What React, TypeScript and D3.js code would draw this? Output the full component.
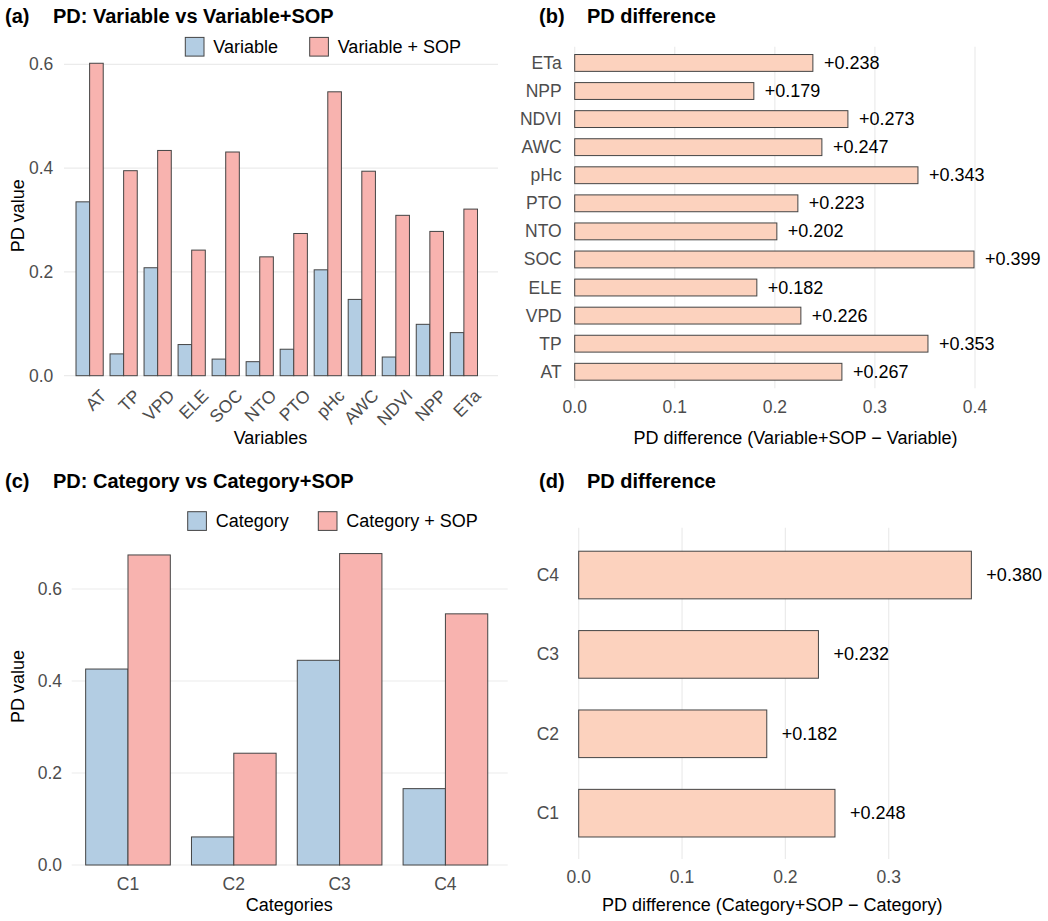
import React from 'react';
import * as d3 from 'd3';

// variable-level PD values
const variables = ['AT', 'TP', 'VPD', 'ELE', 'SOC', 'NTO', 'PTO', 'pHc', 'AWC', 'NDVI', 'NPP', 'ETa'];
const varPD = [0.335, 0.042, 0.208, 0.060, 0.032, 0.027, 0.051, 0.204, 0.147, 0.036, 0.099, 0.083];
const varSopPD = [0.602, 0.395, 0.434, 0.242, 0.431, 0.229, 0.274, 0.547, 0.394, 0.309, 0.278, 0.321];
const varDiff = [0.267, 0.353, 0.226, 0.182, 0.399, 0.202, 0.223, 0.343, 0.247, 0.273, 0.179, 0.238];

// category-level PD values
const categories = ['C1', 'C2', 'C3', 'C4'];
const catPD = [0.426, 0.061, 0.445, 0.166];
const catSopPD = [0.674, 0.243, 0.677, 0.546];
const catDiff = [0.248, 0.182, 0.232, 0.380];

const yTicks = [0, 0.2, 0.4, 0.6];
const bTicks = [0, 0.1, 0.2, 0.3, 0.4];
const dTicks = [0, 0.1, 0.2, 0.3];

const FONT = '"Liberation Sans", Arial, Helvetica, sans-serif';
const BLUE = '#B3CDE3';
const PINK = '#F8B3AF';
const PEACH = '#FCD2BE';
const EDGE = '#444444';
const GRID = '#EBEBEB';
const TICK = '#4D4D4D';

const fmt1 = d3.format('.1f');
const fmtDiff = (v: number) => '+' + d3.format('.3f')(v);

function Title({ x, y, tag, text }: { x: number; y: number; tag: string; text: string }) {
  return (
    <g fontFamily={FONT} fontWeight="bold" fontSize={20} fill="#000">
      <text x={x} y={y}>{tag}</text>
      <text x={x + 48} y={y}>{text}</text>
    </g>
  );
}

function Legend({ x, y, labels, gap }: { x: number; y: number; labels: string[]; gap: number }) {
  const fills = [BLUE, PINK];
  return (
    <g fontFamily={FONT} fontSize={18}>
      {labels.map((l, i) => (
        <g key={l} transform={`translate(${x + i * gap},${y})`}>
          <rect x={0} y={-9.3} width={18.7} height={18.7} fill={fills[i]} stroke={EDGE} strokeWidth={1} />
          <text x={28} y={0} dominantBaseline="central">{l}</text>
        </g>
      ))}
    </g>
  );
}

// grouped bars: base vs base+SOP
function GroupedPanel(props: {
  names: string[]; base: number[]; plus: number[];
  y0: number; y6: number; xr: [number, number]; grid: [number, number];
  tickRight: number; rotate: boolean; xTickY: number; yTitleY: number;
  xTitle: string; xTitleX: number; xTitleY: number;
}) {
  const { names, base, plus, y0, y6, xr, grid, tickRight, rotate, xTickY, yTitleY, xTitle, xTitleX, xTitleY } = props;
  const y = d3.scaleLinear().domain([0, 0.6]).range([y0, y6]);
  const x = d3.scalePoint<string>().domain(names).range(xr).padding(0.6);
  const w = x.step() * 0.4;
  return (
    <g fontFamily={FONT}>
      {yTicks.map((t) => (
        <g key={t}>
          <line x1={grid[0]} x2={grid[1]} y1={y(t)} y2={y(t)} stroke={GRID} strokeWidth={1.2} />
          <text x={tickRight} y={y(t)} textAnchor="end" dominantBaseline="central" fontSize={17.5} fill={TICK}>{fmt1(t)}</text>
        </g>
      ))}
      {names.map((n, i) => {
        const cx = x(n) as number;
        return (
          <g key={n}>
            <rect x={cx - w} y={y(base[i])} width={w} height={y0 - y(base[i])} fill={BLUE} stroke={EDGE} strokeWidth={1} />
            <rect x={cx} y={y(plus[i])} width={w} height={y0 - y(plus[i])} fill={PINK} stroke={EDGE} strokeWidth={1} />
            {rotate ? (
              <text transform={`translate(${cx + 9},${xTickY}) rotate(-45)`} textAnchor="end" dy="0.72em" fontSize={17.5} fill={TICK}>{n}</text>
            ) : (
              <text x={cx} y={xTickY} textAnchor="middle" dominantBaseline="central" fontSize={17.5} fill={TICK}>{n}</text>
            )}
          </g>
        );
      })}
      <text transform={`translate(17.5,${yTitleY}) rotate(-90)`} textAnchor="middle" dominantBaseline="central" fontSize={18}>PD value</text>
      <text x={xTitleX} y={xTitleY} textAnchor="middle" dominantBaseline="central" fontSize={18}>{xTitle}</text>
    </g>
  );
}

// horizontal bars of the SOP gain
function DiffPanel(props: {
  names: string[]; diff: number[]; ticks: number[]; x0: number; x1: number; xMax: number;
  yr: [number, number]; grid: [number, number]; labelRight: number; xTickY: number;
  gap: number; xTitle: string; xTitleX: number; xTitleY: number;
}) {
  const { names, diff, ticks, x0, x1, xMax, yr, grid, labelRight, xTickY, gap, xTitle, xTitleX, xTitleY } = props;
  const x = d3.scaleLinear().domain([0, xMax]).range([x0, x1]);
  const y = d3.scalePoint<string>().domain([...names].reverse()).range(yr).padding(0.6);
  const h = y.step() * 0.6;
  return (
    <g fontFamily={FONT}>
      {ticks.map((t) => (
        <g key={t}>
          <line x1={x(t)} x2={x(t)} y1={grid[0]} y2={grid[1]} stroke={GRID} strokeWidth={1.2} />
          <text x={x(t)} y={xTickY} textAnchor="middle" dominantBaseline="central" fontSize={17.5} fill={TICK}>{fmt1(t)}</text>
        </g>
      ))}
      {names.map((n, i) => {
        const cy = y(n) as number;
        return (
          <g key={n}>
            <rect x={x(0)} y={cy - h / 2} width={x(diff[i]) - x(0)} height={h} fill={PEACH} stroke={EDGE} strokeWidth={1} />
            <text x={labelRight} y={cy} textAnchor="end" dominantBaseline="central" fontSize={17.5} fill={TICK}>{n}</text>
            <text x={x(diff[i]) + gap} y={cy} dominantBaseline="central" fontSize={18} fill="#000">{fmtDiff(diff[i])}</text>
          </g>
        );
      })}
      <text x={xTitleX} y={xTitleY} textAnchor="middle" dominantBaseline="central" fontSize={18}>{xTitle}</text>
    </g>
  );
}

export default function App() {
  return (
    <svg width={1048} height={921} style={{ position: 'absolute', left: 0, top: 0, background: '#fff' }}>
      <rect width={1048} height={921} fill="#fff" />

      <Title x={5} y={22.7} tag="(a)" text="PD: Variable vs Variable+SOP" />
      <Legend x={185.3} y={46.7} labels={['Variable', 'Variable + SOP']} gap={124.4} />
      <GroupedPanel names={variables} base={varPD} plus={varSopPD}
        y0={375.7} y6={64.3} xr={[69.2, 484.3]} grid={[64, 498]} tickRight={53.3}
        rotate={true} xTickY={388} yTitleY={215.8} xTitle="Variables" xTitleX={270.5} xTitleY={438} />

      <Title x={539} y={22.7} tag="(b)" text="PD difference" />
      <DiffPanel names={variables} diff={varDiff} ticks={bTicks} x0={574.7} x1={975} xMax={0.4}
        yr={[46.1, 388.6]} grid={[46.7, 388.3]} labelRight={561.7} xTickY={406.7} gap={11}
        xTitle="PD difference (Variable+SOP − Variable)" xTitleX={795.5} xTitleY={438.3} />

      <Title x={5} y={488.3} tag="(c)" text="PD: Category vs Category+SOP" />
      <Legend x={187.7} y={521} labels={['Category', 'Category + SOP']} gap={130.6} />
      <GroupedPanel names={categories} base={catPD} plus={catSopPD}
        y0={865} y6={589} xr={[64.5, 508.9]} grid={[71.7, 507.7]} tickRight={62}
        rotate={false} xTickY={884} yTitleY={686.5} xTitle="Categories" xTitleX={289.3} xTitleY={905} />

      <Title x={539} y={488.3} tag="(d)" text="PD difference" />
      <DiffPanel names={categories} diff={catDiff} ticks={dTicks} x0={578.7} x1={888.7} xMax={0.3}
        yr={[527.4, 860.8]} grid={[527.7, 859]} labelRight={559} xTickY={876.7} gap={15}
        xTitle="PD difference (Category+SOP − Category)" xTitleX={772.3} xTitleY={905} />
    </svg>
  );
}
